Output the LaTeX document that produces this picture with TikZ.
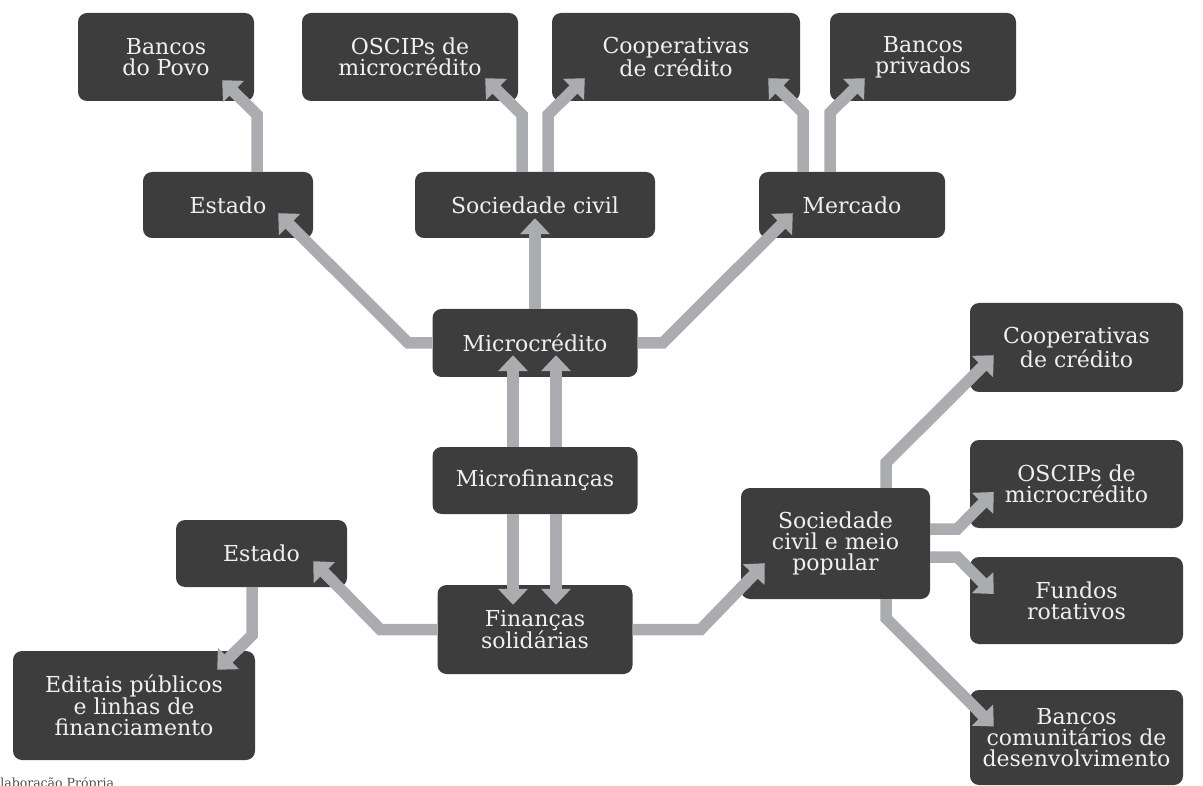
\documentclass[tikz,border=0pt]{standalone}
\usepackage{fontspec}
\setmainfont{DejaVu Serif}
\usepackage{xcolor}
\usepackage{tikz}
\usetikzlibrary{arrows.meta}
\definecolor{mfdark}{HTML}{3D3D3D}
\definecolor{mfgray}{HTML}{ABACAF}
\definecolor{mftext}{HTML}{F0F0F0}

\begin{document}
\begin{tikzpicture}[
    x=1pt, y=-1pt,
    box/.style={fill=mfdark, rounded corners=9pt, text=mftext, align=center, inner sep=0pt,
      font=\fontsize{22}{21}\selectfont},
    arrow/.style={-{Triangle[length=16pt, width=29pt]}, line width=11.5pt, draw=mfgray}
  ]
    \useasboundingbox (0,0) rectangle (1203,786);

    % linha superior
    \node[box, minimum width=176pt, minimum height=88pt] (bpovo) at (166,57) {Bancos\\do Povo};
    \node[box, minimum width=216pt, minimum height=88pt] (oscA) at (410,57) {OSCIPs de\\microcrédito};
    \node[box, minimum width=248pt, minimum height=88pt] (coopA) at (676,57) {Cooperativas\\de crédito};
    \node[box, minimum width=186pt, minimum height=88pt] (bpriv) at (923,57) {Bancos\\privados};

    \node[box, minimum width=170pt, minimum height=66pt] (estA) at (228,205) {Estado};
    \node[box, minimum width=240pt, minimum height=66pt] (socA) at (535,205) {Sociedade civil};
    \node[box, minimum width=186pt, minimum height=66pt] (merc) at (852,205) {Mercado};

    % centro
    \node[box, minimum width=205pt, minimum height=68pt] (mc) at (535,343) {Microcrédito};
    \node[box, minimum width=205pt, minimum height=67pt] (mf) at (535,480.5) {Microfinanças};
    \node[box, minimum width=195pt, minimum height=89pt] (fs) at (535,629.5) {Finanças\\solidárias};

    % lado esquerdo
    \node[box, minimum width=171pt, minimum height=67pt] (estB) at (261.5,553.5) {Estado};
    \node[box, minimum width=242pt, minimum height=109pt] (edit) at (134,705.5) {Editais públicos\\e linhas de\\financiamento};

    % lado direito
    \node[box, minimum width=189pt, minimum height=111pt] (scmp) at (835.5,543.5) {Sociedade\\civil e meio\\popular};
    \node[box, minimum width=213pt, minimum height=89pt] (coopB) at (1076.5,347.5) {Cooperativas\\de crédito};
    \node[box, minimum width=213pt, minimum height=88pt] (oscB) at (1076.5,484) {OSCIPs de\\microcrédito};
    \node[box, minimum width=213pt, minimum height=87pt] (fund) at (1076.5,600.5) {Fundos\\rotativos};
    \node[box, minimum width=213pt, minimum height=95pt] (bcd) at (1076.5,737.5) {Bancos\\comunitários de\\desenvolvimento};

    \node[anchor=base west, text=black!70, font=\fontsize{12.5}{12.5}\selectfont, inner sep=0pt] (fonte) at (-9,787) {Elaboração Própria};

    % setas
    \draw[arrow] ([xshift=29pt]estA.north) -- ++(0,-57) -- ([xshift=-32pt,yshift=21pt]bpovo.south east);
    \draw[arrow] ([xshift=-13pt]socA.north) -- ++(0,-57) -- ([xshift=-33pt,yshift=23pt]oscA.south east);
    \draw[arrow] ([xshift=13pt]socA.north) -- ++(0,-57) -- ([xshift=33pt,yshift=23pt]coopA.south west);
    \draw[arrow] ([xshift=-49pt]merc.north) -- ++(0,-59) -- ([xshift=-32pt,yshift=23pt]coopA.south east);
    \draw[arrow] ([xshift=-22pt]merc.north) -- ++(0,-59) -- ([xshift=35pt,yshift=23pt]bpriv.south west);

    \draw[arrow] (mc.west) -- ++(-24,0) -- ([xshift=-35pt,yshift=25pt]estA.south east);
    \draw[arrow] (mc.north) -- ([yshift=20pt]socA.south);
    \draw[arrow] (mc.east) -- ++(25,0) -- ([xshift=34pt,yshift=25pt]merc.south west);

    \draw[arrow] ([xshift=-22pt]mf.north) -- ([xshift=-22pt,yshift=22pt]mc.south);
    \draw[arrow] ([xshift=21pt]mf.north) -- ([xshift=21pt,yshift=22pt]mc.south);
    \draw[arrow] ([xshift=-22pt]mf.south) -- ([xshift=-22pt,yshift=-20pt]fs.north);
    \draw[arrow] ([xshift=21pt]mf.south) -- ([xshift=21pt,yshift=-20pt]fs.north);

    \draw[arrow] (fs.west) -- ++(-57,0) -- ([xshift=-34pt,yshift=26pt]estB.south east);
    \draw[arrow] ([xshift=-9.5pt]estB.south) -- ++(0,48) -- ([xshift=-38pt,yshift=-19pt]edit.north east);
    \draw[arrow] (fs.east) -- ++(68,0) -- ([xshift=24pt,yshift=36pt]scmp.south west);

    \draw[arrow] ([xshift=50.5pt]scmp.north) -- ++(0,-25) -- ([xshift=24pt,yshift=37pt]coopB.south west);
    \draw[arrow] ([yshift=14.5pt]scmp.east) -- ++(27,0) -- ([xshift=24pt,yshift=-8pt]oscB.west);
    \draw[arrow] ([yshift=-13.5pt]scmp.east) -- ++(27,0) -- ([xshift=24pt,yshift=6.5pt]fund.west);
    \draw[arrow] ([xshift=50.5pt]scmp.south) -- ++(0,19) -- ([xshift=24pt,yshift=11pt]bcd.west);
\end{tikzpicture}
\end{document}
